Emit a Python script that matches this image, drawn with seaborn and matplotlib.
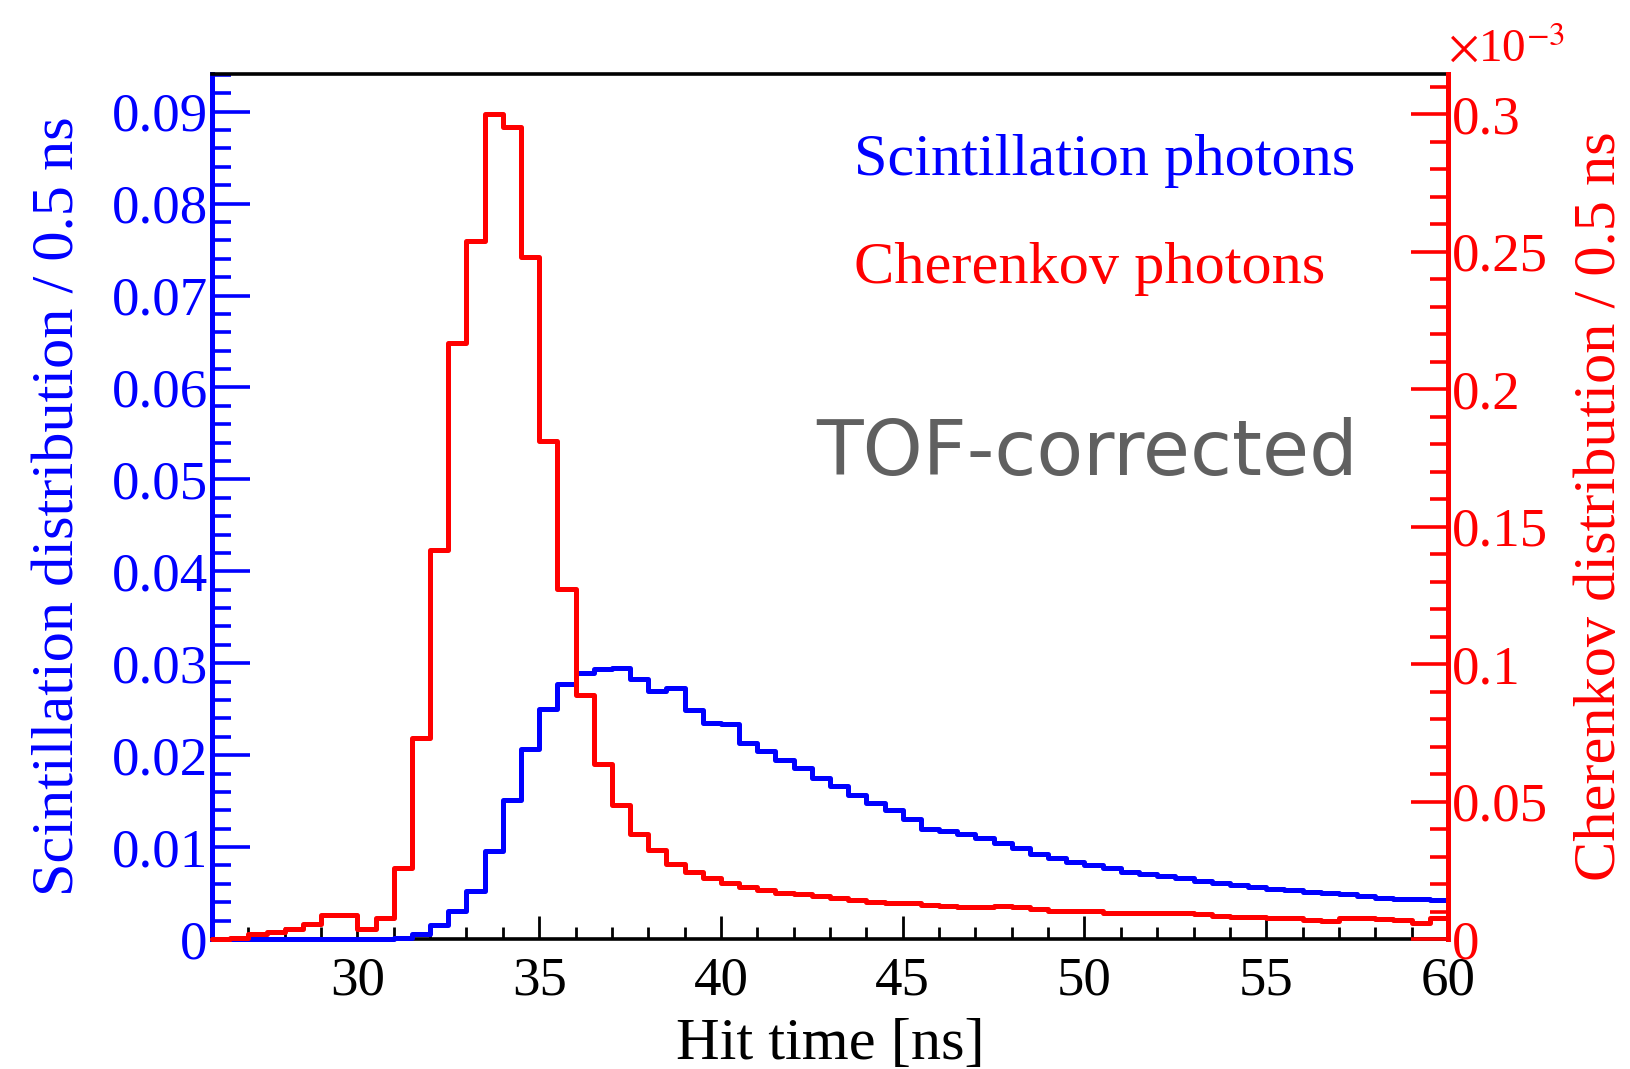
import numpy as np
import pandas as pd
import matplotlib
matplotlib.use("Agg")
import matplotlib.pyplot as plt
import seaborn as sns
from matplotlib.ticker import MultipleLocator, FuncFormatter

# ---------------- data (0.5 ns bins from 26 to 60 ns) ----------------
bin_edges = [26.0 + 0.5 * i for i in range(69)]
bin_lefts = bin_edges[:-1]

# Scintillation distribution per 0.5 ns (left axis)
scint = [0, 0, 0, 0, 0, 0, 0, 0, 0, 0,
         0.0001, 0.0005, 0.0015, 0.0030, 0.0052, 0.0096, 0.0151, 0.0207, 0.0250, 0.0277,
         0.0289, 0.0294, 0.0295, 0.0283, 0.0270, 0.0273, 0.0249, 0.0235, 0.0234, 0.0213,
         0.0204, 0.0195, 0.0186, 0.0175, 0.0166, 0.0157, 0.0148, 0.0140, 0.0131, 0.0120,
         0.0117, 0.0114, 0.0110, 0.0104, 0.0099, 0.0093, 0.0088, 0.0084, 0.0081, 0.0077,
         0.0073, 0.0071, 0.0068, 0.0066, 0.0063, 0.0061, 0.0059, 0.0057, 0.0054, 0.0053,
         0.0051, 0.0050, 0.0049, 0.0047, 0.0045, 0.0044, 0.0043, 0.0042]

# Cherenkov distribution per 0.5 ns, in units of 1e-3 (right axis)
cherenkov_e3 = [0.0, 0.0005, 0.0018, 0.0024, 0.0036, 0.0056, 0.0089, 0.0089, 0.0036, 0.0076,
                0.0258, 0.0731, 0.1413, 0.2167, 0.2540, 0.3000, 0.2954, 0.2480, 0.1810, 0.1272,
                0.0887, 0.0635, 0.0486, 0.0383, 0.0324, 0.0273, 0.0245, 0.0221, 0.0205, 0.0188,
                0.0178, 0.0168, 0.0162, 0.0156, 0.0148, 0.0142, 0.0136, 0.0132, 0.0130, 0.0124,
                0.0120, 0.0118, 0.0116, 0.0120, 0.0116, 0.0108, 0.0103, 0.0102, 0.0102, 0.0096,
                0.0096, 0.0096, 0.0093, 0.0093, 0.0090, 0.0084, 0.0081, 0.0081, 0.0078, 0.0075,
                0.0069, 0.0065, 0.0075, 0.0075, 0.0072, 0.0069, 0.0059, 0.0075]

x_ticks = [30, 35, 40, 45, 50, 55, 60]

# ---------------- style ----------------
sns.set_style("white")
plt.rcParams["font.family"] = ["Liberation Serif", "DejaVu Serif"]
plt.rcParams["mathtext.fontset"] = "stix"

BLUE = "#0000ff"
RED = "#ff0000"
TICK_FS = 39.5
LABEL_FS = 43.5

df = pd.DataFrame({"t": [b + 0.25 for b in bin_lefts], "scint": scint, "cher": cherenkov_e3})

fig = plt.figure(figsize=(16.3, 10.69), dpi=100)
ax = fig.add_axes([212 / 1630, 1 - 939 / 1069, 1236 / 1630, 865 / 1069])
ax2 = ax.twinx()

sns.histplot(data=df, x="t", weights="scint", bins=bin_edges, element="step",
             fill=False, color=BLUE, linewidth=3.6, ax=ax, zorder=3, clip_on=False)
sns.histplot(data=df, x="t", weights="cher", bins=bin_edges,
             element="step", fill=False, color=RED, linewidth=3.6, ax=ax2, zorder=3,
             clip_on=False)

ax.set_xlim(26, 60)
ax.set_ylim(0, 0.0941)
ax2.set_ylim(0, 0.3146)

# x axis
ax.xaxis.set_minor_locator(MultipleLocator(1))
ax.set_xticks(x_ticks)
ax.xaxis.set_major_formatter(FuncFormatter(lambda v, p: f"{v:g}"))
ax.tick_params(axis="x", which="major", direction="in", length=16.5, width=2.0,
               pad=12, labelsize=TICK_FS, colors="black", top=False, bottom=True)
ax.tick_params(axis="x", which="minor", direction="in", length=8.5, width=2.0,
               colors="black", top=False, bottom=True)

# left y axis
ax.yaxis.set_major_locator(MultipleLocator(0.01))
ax.yaxis.set_minor_locator(MultipleLocator(0.002))
ax.yaxis.set_major_formatter(FuncFormatter(lambda v, p: f"{v:g}"))
ax.tick_params(axis="y", which="major", direction="in", length=27, width=2.6,
               pad=3, labelsize=TICK_FS, color=BLUE, labelcolor=BLUE, left=True, right=False)
ax.tick_params(axis="y", which="minor", direction="in", length=14, width=2.6,
               color=BLUE, left=True, right=False)

# right y axis
ax2.yaxis.set_major_locator(MultipleLocator(0.05))
ax2.yaxis.set_minor_locator(MultipleLocator(0.01))
ax2.yaxis.set_major_formatter(FuncFormatter(lambda v, p: f"{v:g}"))
ax2.tick_params(axis="y", which="major", direction="in", length=27, width=2.6,
                pad=3, labelsize=TICK_FS, color=RED, labelcolor=RED, right=True, left=False)
ax2.tick_params(axis="y", which="minor", direction="in", length=13, width=2.6,
                color=RED, right=True, left=False)

# spines
for s in ["top", "bottom"]:
    ax.spines[s].set_color("black")
    ax.spines[s].set_linewidth(2.6)
    ax2.spines[s].set_visible(False)
ax.spines["left"].set_color(BLUE)
ax.spines["left"].set_linewidth(3.6)
ax.spines["right"].set_visible(False)
ax2.spines["left"].set_visible(False)
ax2.spines["right"].set_color(RED)
ax2.spines["right"].set_linewidth(3.6)

# labels
ax.set_xlabel("Hit time [ns]", fontsize=LABEL_FS, color="black", va="center")
ax.xaxis.set_label_coords(0.5, -0.1225)
ax.set_ylabel("Scintillation distribution / 0.5 ns", fontsize=LABEL_FS, color=BLUE,
              va="center")
ax.yaxis.set_label_coords(-0.1230, 0.5)
ax2.set_ylabel("Cherenkov distribution / 0.5 ns", fontsize=LABEL_FS, color=RED,
               va="center", rotation=90)
ax2.yaxis.set_label_coords(1.1238, 0.5)

fig.text(1448 / 1630, 1 - 50 / 1069, r"$\times$10$^{-3}$", color=RED, fontsize=34,
         ha="left", va="center")

# annotations
fig.text(854 / 1630, 1 - 175 / 1069, "Scintillation photons", color=BLUE,
         fontsize=LABEL_FS, ha="left", va="baseline")
fig.text(854 / 1630, 1 - 283 / 1069, "Cherenkov photons", color=RED,
         fontsize=LABEL_FS, ha="left", va="baseline")
fig.text(816 / 1630, 1 - 454 / 1069, "TOF-corrected", color="#606060",
         fontsize=55, ha="left", va="center", family="DejaVu Sans")

fig.savefig("out.png", dpi=100, facecolor="white")
